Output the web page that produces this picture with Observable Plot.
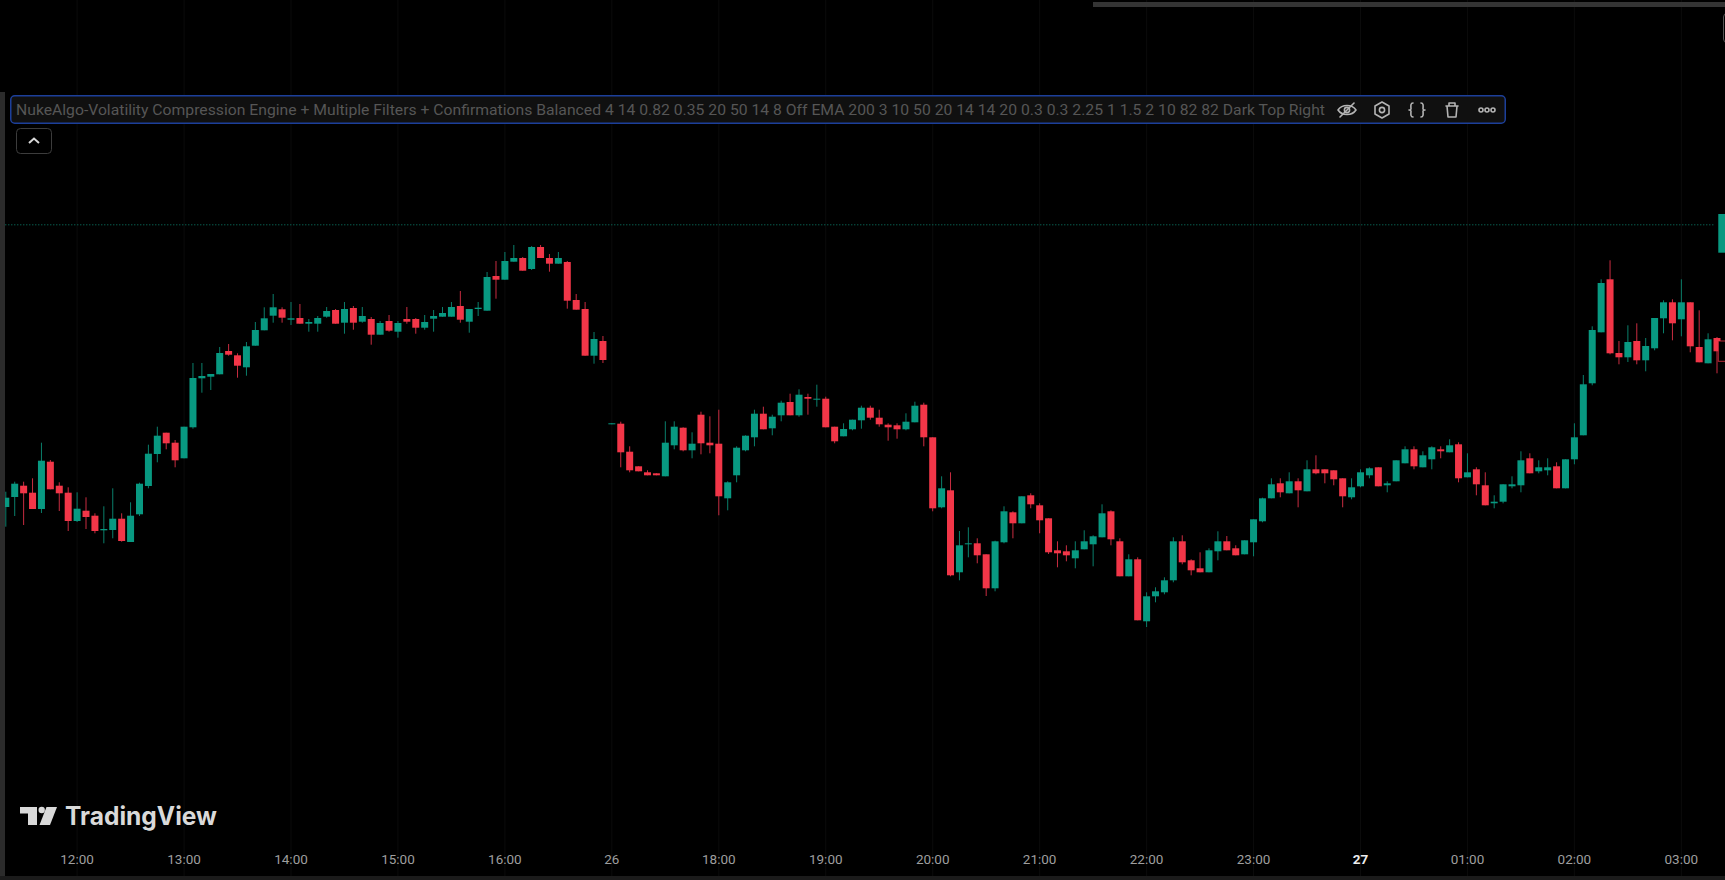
<!DOCTYPE html>
<html><head><meta charset="utf-8">
<script src="https://cdn.jsdelivr.net/npm/d3@7"></script>
<script src="https://cdn.jsdelivr.net/npm/@observablehq/plot@0.6"></script>
<style>
html,body{margin:0;padding:0;background:#000;overflow:hidden}
#stage{position:relative;width:1725px;height:880px;background:#000}
#chart svg{display:block}
.o{position:absolute;box-sizing:border-box}
</style></head><body>
<div id="stage"><div id="chart"></div>
<div class="o" style="left:0;top:92px;width:5px;height:788px;background:#2b2b2b"></div>
<div class="o" style="left:0;top:876px;width:1725px;height:4px;background:#1b1b1b"></div>
<div class="o" style="left:1093px;top:2px;width:632px;height:5px;background:#343434"></div>
<div class="o" style="left:1723px;top:13px;width:8px;height:30px;border:1px solid #555;border-radius:4px"></div>
<svg class="o" id="legend" style="left:10px;top:95px" width="1497" height="30">
  <rect x="0.75" y="0.75" width="1494.5" height="27.5" rx="4" fill="#101010" stroke="#1c3f9a" stroke-width="1.5"/>
  <text id="legendText" x="6" y="16" dominant-baseline="middle" fill="#565656" font-family="Roboto" font-size="14.3" textLength="1309" lengthAdjust="spacingAndGlyphs"></text>
  <g fill="none" stroke="#b4b4b4" stroke-width="1.6" stroke-linecap="round" stroke-linejoin="round">
    <g transform="translate(1337,15)"><path d="M-9 0C-5-6 5-6 9 0C5 6-5 6-9 0Z"/><circle r="2.6"/><path d="M-7 7L7-7"/></g>
    <g transform="translate(1372,15)"><path d="M0-8L7-4V4L0 8L-7 4V-4Z"/><circle r="2.6"/></g>
    <g transform="translate(1407,15)"><path d="M-4-7C-7-7-6-3-6-1C-6 0-7 0-8 0C-7 0-6 0-6 1C-6 3-7 7-4 7M4-7C7-7 6-3 6-1C6 0 7 0 8 0C7 0 6 0 6 1C6 3 7 7 4 7"/></g>
    <g transform="translate(1442,15)"><path d="M-6-4H6M-3-4V-7H3V-4M-5-4L-4 7H4L5-4"/></g>
    <g transform="translate(1477,15)"><circle cx="-6" r="2"/><circle r="2"/><circle cx="6" r="2"/></g>
  </g>
</svg>
<svg class="o" style="left:16px;top:128px" width="36" height="26">
  <rect x="0.5" y="0.5" width="35" height="25" rx="4" fill="#000" stroke="#3c3c3c"/>
  <path d="M13 15L18 10.5L23 15" fill="none" stroke="#d8d8d8" stroke-width="2"/>
</svg>
<svg class="o" style="left:20px;top:800px" width="210" height="40">
  <g fill="#d9d9d9">
    <path d="M0 7H17V25H8V13.5H0Z"/><circle cx="21.7" cy="10" r="3.2"/><path d="M26.5 7H37L30 25H19.5Z"/>
    <text x="45" y="25" font-family="Inter" font-weight="700" font-size="25" textLength="152" lengthAdjust="spacingAndGlyphs">TradingView</text>
  </g>
</svg>
</div>
<script>
const legendLabel = "NukeAlgo-Volatility Compression Engine + Multiple Filters + Confirmations Balanced 4 14 0.82 0.35 20 50 14 8 Off EMA 200 3 10 50 20 14 14 20 0.3 0.3 2.25 1 1.5 2 10 82 82 Dark Top Right";

const direction =
 "GGRRGRRRGR"+"RGGRGGGGRR"+"GGGGGRRGGG"+"GRGRGGGRGR"+"GRGRGRRGGG"+"GRGGGRGGRG"+"RRGRRRGRGR"+"RRRRGGRGRR"+"RGGGGRGGRG"+"RGRRGGGRRR"+
 "RGGRRGRGGR"+"RGGRGRRRRR"+"GGGGRRGRGG"+"GGRRRGGRRG"+"GGGRGRGRRR"+"RGGGRGGGRG"+"GRGRGRRGGG"+"GRGGRGGGGG"+"RRGRGGGRGR"+"RGR";

const high = [
388.3,398.3,398.3,401.7,437.3,420,397.7,392.7,387.7,382.7,
366.7,373.7,391.7,366.7,377.7,397.3,435.3,453.3,447.3,440,
453.3,517,517,506,533,536,526.7,538,558,572.7,
586,572.7,578,576,561,564,573,571,578,574,
573,563,559,565,559,573,562,565,570,573,
578,589,571,578,608,619,628,635,623,634,
635,626,628,619,586,578,548,544,456.7,458.3,
433.7,413.7,409.7,406.7,458.7,458.7,452.7,447.7,468.3,463.7,
470.3,398.7,433.7,444.7,470.3,473.3,465.3,479.3,486.3,490.7,
486.3,495.3,483.3,453.3,456.7,460.3,474.3,474.3,470.3,456.7,
456.7,466.7,478.3,477.3,442.7,403.7,407.7,349,352.7,341.7,
325.7,339.3,373.7,368.7,383.7,386.7,376.7,361.7,338.7,334.7,
338.7,349.7,344.7,375.7,369.7,341.7,325.7,322.7,287.7,292.7,
302.7,342.7,344.7,320.7,327.7,331.7,348.7,344,334.7,339.7,
360.7,382.3,401.7,401.7,407.7,401.7,419.7,424.7,410.7,409.7,
401.7,401.7,410.7,412.7,412.7,398.7,419.7,433.7,433.7,428.7,
433.7,433.7,440.7,437.7,426.7,412.7,407.7,384.7,395.7,403.7,
428.7,426.7,419.7,421.7,417.7,420.7,456.7,505,553.7,600.7,
619.7,539,554.7,556.7,542,562,579.7,580.7,600.7,577.7,
569.7,546.7,543];

const bodyTop = [
382.3,396.3,394.3,387.3,419.3,418.3,394.3,387.3,371.3,369.3,
364.3,351,361.3,361.3,364.3,396.3,426.3,444.3,447.3,437.3,
453.3,502,504,506,527,529,524.7,533.7,550,561.7,
572.7,570.7,561.7,562,558,562,569,570,571,572,
564,561,557,559,557,561,561,558,564,567,
573,574,571,572.3,603,604,619,622,622,633,
633,622,622,618,580,571,541,539,456.7,456.3,
428.3,413.7,407.7,406.7,437.3,453.3,452.3,436.3,465.3,437.3,
436.3,397.7,432.3,444.3,466.3,466.3,463.3,477.3,478,485.3,
483,481.3,481.3,453.3,451,460.3,472.3,472.3,462.3,455.3,
454.7,458.3,474.3,475.3,442.7,391.7,389.7,334.7,336.7,336.7,
325.7,338.7,368.7,367.7,383.7,384.7,374.7,361.7,329.7,328.7,
329.7,338.7,343.7,366.7,368.7,338.7,320.7,320.7,283.7,288.7,
299.7,338.7,338.7,319.7,311.7,329.7,338.7,338.7,331.7,339.7,
360.7,381.7,395.7,396.7,398.7,398.7,410.7,410.7,410.7,409.7,
401.7,392.7,407.7,411.7,412.7,396.7,419.7,430.7,430.7,424.7,
432.7,430.7,434.7,435.7,407.7,410.7,394.7,378.3,395.7,395.7,
419.7,421.7,412.7,412.7,413.7,420.7,442.7,495.7,550,597,
600.7,527,538,539,534,562,577.7,577.7,577.7,577.7,
533,540.7,542];

const bodyBottom = [
373,383,386.7,371,371,390.7,386.7,359,359,363,
349,349.7,350,339,338,365.7,394,426,436.7,419.7,
421.7,452.7,501.7,503.3,505.7,525.3,514.3,512.7,534.3,549.7,
564.3,562.3,560.3,556.3,556.3,556.3,563.3,556.3,557.3,557.3,
558.3,545.3,545.3,549.3,548.3,558.3,552.3,552.3,561.3,563.3,
563.3,560.3,558.3,571,569.3,600.3,600.3,618.3,609.3,611,
622,616.3,616.3,579.3,570.3,524.3,524.3,520,455.7,427.7,
409.7,408.7,404.7,404.7,403.7,434.7,429.7,429.7,436.7,434.7,
383.7,381.7,404.7,429.7,442.7,450.7,451.7,464.7,464.7,464.7,
481.3,480.3,452.7,438.7,443.7,450.7,459.7,462.3,455.7,452.7,
450.7,450.7,457.7,442.7,371.7,372.7,304.7,307.7,335.7,324.7,
291.7,291.7,337.7,356.7,356.7,375.7,359.7,327.7,326.7,324.7,
321.7,330.7,335.7,342.7,340.7,303.7,303.7,259.7,258.7,283.7,
287.7,299.7,317.7,309.7,307.7,307.7,328.7,329.7,324.7,325.7,
337.7,358.7,381.7,387.7,386.7,389.7,388.7,406.7,406.7,400.7,
383.7,382.7,393.7,404.7,393.7,394.7,398.7,416.7,413.7,412.7,
420.7,428.7,427.7,401.7,402.7,395.7,374.7,376.7,378.3,393.7,
394.7,406.7,408.7,409.7,391.7,391.7,420.7,444.7,496.7,547.7,
526.7,522.7,522.7,519.7,519.7,531.7,561.7,556.7,560.7,533.7,
517.7,516.7,528.7];

const low = [
353.3,364,355,371,367,390.7,369,349,358,351,
346.7,336.7,341.7,338.3,338,364,391.7,417.7,430.7,412.7,
421.7,451.3,487.3,490,505.7,524.3,502.3,504.3,534.3,549.7,
557.3,557.3,555,556.3,548.3,548.3,562.3,556.3,546.3,550.3,
557.3,535.3,545.3,548.3,542.3,556.3,546.3,550.3,548.3,563.3,
563.3,557.3,547.3,564,569.3,581.3,600.3,618.3,609.3,610,
622,608.3,616.3,571.3,570.3,524.3,516.3,517,455.7,412.7,
407.7,408.7,404.7,404.7,403.7,430.7,428.7,421.7,425.7,426.7,
364.7,369.7,397.7,428.7,433.7,450.7,444.7,458.7,464.7,463.3,
465.3,473.3,452.7,436.7,443.7,449.7,451.3,460.3,453.3,439.3,
441.3,449.7,457.7,433.7,368.7,371.7,303.7,299.7,322.7,316.7,
284,288.7,336.7,341.7,356.7,371.7,346.7,326,312.7,318.7,
311.7,330.7,313.7,342.7,334.7,303.7,303.7,259.7,253,277.7,
285.7,297.7,315.7,304.7,307.7,307.7,319.7,329.7,324.7,325.7,
323.7,357.7,381.7,382.7,386.7,372.7,388.7,405.7,396.7,394.7,
372.7,380.7,392.7,401.7,393.7,387.7,398.7,416.7,410.7,412.7,
410.7,421.7,427.7,397.7,402.7,384.7,374.7,371.7,376.7,391.7,
387.7,406.7,406.7,404.7,391.7,391.7,415.7,444.7,494.7,547.7,
525.7,515.7,518,515.7,508.7,529.7,546.7,539.7,543.7,527.7,
517.7,516.7,506.7];

// Time axis: candle index of each labelled tick
const hourTicks = [8,20,32,44,56,68,80,92,104,116,128,140,164,176,188];
const hourLabels = ["12:00","13:00","14:00","15:00","16:00","26","18:00","19:00","20:00","21:00","22:00","23:00","01:00","02:00","03:00"];
const dayTicks = [152];
const dayLabels = ["27"];

// Current (forming) candle, price line and price tag at the right edge
const lastCandle = {i0:192.2, i1:194.5, top:539, bottom:518.7};
const priceLine = 655.7;
const priceLineSpan = [0,191.8];
const priceTag = {i0:192.2, i1:194.5, top:666, bottom:627.3};

const GREEN="#089981", RED="#f23648", GREEN_W="#0a7f6b", RED_W="#c82c40";
const candles = high.map((h,i)=>({i, high:h, low:low[i], top:bodyTop[i], bottom:bodyBottom[i], up:direction[i]==="G"}));

document.getElementById("legendText").textContent = legendLabel;

const plot = Plot.plot({
  width:1725, height:880,
  margin:0, marginBottom:27,
  style:{background:"#000", fontFamily:"Roboto", fontSize:"13.5px", overflow:"visible"},
  x:{type:"linear", domain:[0,192], range:[5.3,1716.5]},
  y:{type:"linear", domain:[0,880], range:[880,0], axis:null},
  marks:[
    Plot.ruleX([...hourTicks,...dayTicks], {x:d=>d, y1:0, y2:880, stroke:"#0b0b0b"}),
    Plot.ruleY([priceLine], {x1:priceLineSpan[0], x2:priceLineSpan[1], y:d=>d, stroke:"#0c8570", strokeWidth:1, strokeDasharray:"1 2"}),
    Plot.ruleX(candles, {x:"i", y1:"low", y2:"high", stroke:d=>d.up?GREEN_W:RED_W, strokeWidth:1}),
    Plot.ruleX(candles, {x:"i", y1:"bottom", y2:"top", stroke:d=>d.up?GREEN:RED, strokeWidth:7}),
    Plot.rect([lastCandle], {x1:"i0", x2:"i1", y1:"bottom", y2:"top", fill:"#000", stroke:RED, strokeOpacity:0.75}),
    Plot.rect([priceTag], {x1:"i0", x2:"i1", y1:"bottom", y2:"top", fill:GREEN}),
    Plot.axisX({ticks:hourTicks, tickSize:0, tickPadding:1, label:null, stroke:"none", fill:"#9e9e9e",
                tickFormat:d=>hourLabels[hourTicks.indexOf(d)]}),
    Plot.axisX({ticks:dayTicks, tickSize:0, tickPadding:1, label:null, stroke:"none", fill:"#ececec", fontWeight:"bold",
                tickFormat:d=>dayLabels[dayTicks.indexOf(d)]})
  ]
});
document.getElementById("chart").appendChild(plot);
</script></body></html>
